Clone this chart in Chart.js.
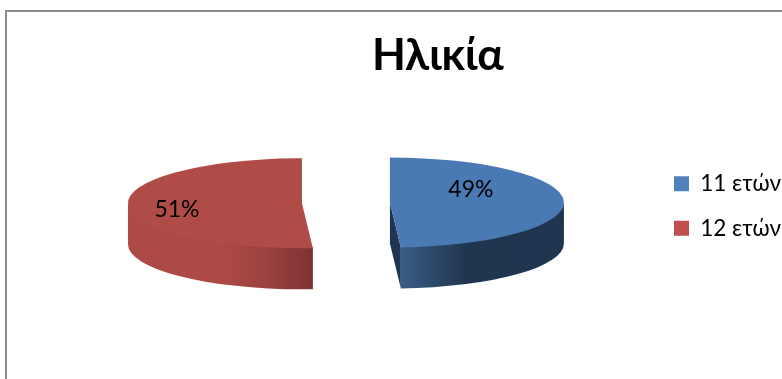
<!DOCTYPE html>
<html>
<head>
<meta charset="utf-8">
<title>Ηλικία</title>
<script src="https://cdn.jsdelivr.net/npm/chart.js@4"></script>
<style>
  html, body { margin: 0; padding: 0; background: #fff; overflow: hidden; }
  #frame { position: absolute; left: 5px; top: 10px; width: 800px; height: 400px;
           border-left: 2px solid #8c8c8c; border-top: 2px solid #8c8c8c; }
  #wrap { position: absolute; left: 0; top: 0; width: 782px; height: 379px; }
</style>
</head>
<body>
<div id="frame"></div>
<div id="wrap"><canvas id="agePie"></canvas></div>
<script>
// data
const ageLabels = ['11 ετών', '12 ετών'];
const agePercent = [49, 51];
const sliceColors = ['#4a7ab3', '#b04c48'];
const legendColors = ['#4f81bd', '#c0504d'];

// 3d look
const squash = 0.2586;   // how flat the disc is
const depth = 41;        // wall height in px
const pieRadius = 174;
const explode = 44;      // px each slice moves out along its middle

const wallStops = [
  [[0, '#3a5c85'], [0.4, '#20364f'], [1, '#1f3550']],
  [[0, '#ab4a46'], [0.5, '#ad4a46'], [0.75, '#9b423f'], [1, '#7d3331']]
];
const cutColors = ['#1f3550', '#7d3331'];

// where the % texts sit, relative to each slice's tip
const valueLabelShift = [[81, -13], [-125, 6]];

function sliceCenter(arc) {
  const mid = (arc.startAngle + arc.endAngle) / 2;
  return {
    x: arc.x + Math.cos(mid) * explode,
    y: arc.y + Math.sin(mid) * explode * squash
  };
}

const tiltedPie = {
  id: 'tiltedPie',
  afterLayout(chart) {
    // title and legend are not centred on the pie
    chart.titleBlock.left += 92;
    chart.titleBlock.right += 92;
    const legend = chart.legend;
    const dx = 674 - (legend.left + legend.options.labels.padding);
    const dy = 206 - (legend.top + legend.bottom) / 2;
    legend.left += dx;
    legend.right += dx;
    legend.top += dy;
    legend.bottom += dy;
  },
  // returns false: the slices are all drawn here, flattened and moved apart
  beforeDatasetsDraw(chart) {
    const ctx = chart.ctx;
    const arcs = chart.getDatasetMeta(0).data;
    arcs.forEach((arc, i) => {
      const c = sliceCenter(arc);
      const rx = arc.outerRadius, ry = rx * squash;

      // flat cut face
      [arc.startAngle, arc.endAngle].forEach((a, k) => {
        const seen = k === 0 ? -Math.cos(a) : Math.cos(a);
        if (seen <= 0.001) return;
        const ex = c.x + Math.cos(a) * rx, ey = c.y + Math.sin(a) * ry;
        ctx.beginPath();
        ctx.moveTo(c.x, c.y);
        ctx.lineTo(ex, ey);
        ctx.lineTo(ex, ey + depth);
        ctx.lineTo(c.x, c.y + depth);
        ctx.closePath();
        ctx.fillStyle = cutColors[i];
        ctx.fill();
      });

      // outer wall, only the front half of the disc shows
      const a = Math.max(arc.startAngle, 0);
      const b = Math.min(arc.endAngle, Math.PI);
      if (b > a) {
        const x0 = c.x + Math.cos(b) * rx, x1 = c.x + Math.cos(a) * rx;
        const grad = ctx.createLinearGradient(Math.min(x0, x1), 0, Math.max(x0, x1), 0);
        wallStops[i].forEach(s => grad.addColorStop(s[0], s[1]));
        ctx.beginPath();
        // starts 1px up so no white seam shows under the top face
        ctx.ellipse(c.x, c.y - 1, rx, ry, 0, a, b);
        ctx.ellipse(c.x, c.y + depth, rx, ry, 0, b, a, true);
        ctx.closePath();
        ctx.fillStyle = grad;
        ctx.fill();
      }

      // top face
      ctx.save();
      ctx.translate(c.x, c.y);
      ctx.scale(1, squash);
      ctx.translate(-arc.x, -arc.y);
      arc.draw(ctx);
      ctx.restore();
    });
    return false;
  },
  afterDraw(chart) {
    const ctx = chart.ctx;
    chart.getDatasetMeta(0).data.forEach((arc, i) => {
      const c = sliceCenter(arc);
      ctx.save();
      ctx.font = '23px Lato, "Open Sans", sans-serif';
      ctx.fillStyle = '#000';
      ctx.textAlign = 'center';
      ctx.textBaseline = 'middle';
      ctx.fillText(agePercent[i] + '%', c.x + valueLabelShift[i][0], c.y + valueLabelShift[i][1]);
      ctx.restore();
    });
  }
};

new Chart(document.getElementById('agePie'), {
  type: 'pie',
  data: {
    labels: ageLabels,
    datasets: [{
      data: agePercent,
      backgroundColor: sliceColors,
      borderWidth: 0
    }]
  },
  options: {
    responsive: true,
    maintainAspectRatio: false,
    animation: false,
    radius: pieRadius,
    layout: { padding: { left: 49, bottom: 73 } },
    plugins: {
      tooltip: { enabled: false },
      title: {
        display: true,
        text: 'Ηλικία',
        color: '#000',
        fullSize: false,
        font: { family: 'Lato, "Open Sans", sans-serif', size: 44, weight: 'bold' },
        padding: { top: 29, bottom: 18 }
      },
      legend: {
        position: 'right',
        onClick: null,
        labels: {
          boxWidth: 15,
          boxHeight: 15,
          padding: 22,
          color: '#000',
          font: { family: 'Lato, "Open Sans", sans-serif', size: 22.5 },
          generateLabels: () => ageLabels.map((text, i) => ({
            text, fillStyle: legendColors[i], strokeStyle: legendColors[i],
            lineWidth: 0, index: i, hidden: false
          }))
        }
      }
    }
  },
  plugins: [tiltedPie]
});
</script>
</body>
</html>
